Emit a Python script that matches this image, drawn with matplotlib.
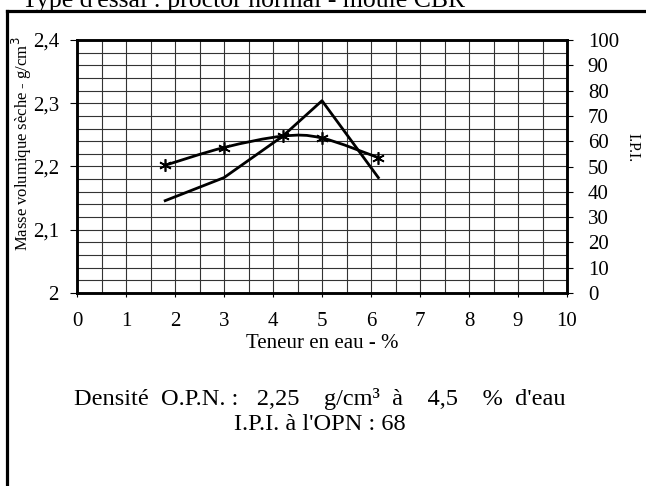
import matplotlib.pyplot as plt
from matplotlib.path import Path
from matplotlib.patches import PathPatch
from matplotlib.lines import Line2D
from matplotlib.ticker import MultipleLocator, FuncFormatter

plt.rcParams['font.family'] = ['Liberation Serif', 'DejaVu Serif']

# donnees
teneur_eau = [1.8, 3.0, 4.2, 5.0, 6.15]
densite = [2.202, 2.230, 2.248, 2.245, 2.214]
ipi = [36.5, 45.6, 62.0, 76.0, 45.6]

titre = "Type d'essai : proctor normal - moule CBR"
ligne_opn = "Densité  O.P.N. :   2,25    g/cm³  à    4,5    %  d'eau"
ligne_ipi = "I.P.I. à l'OPN : 68"


def courbe_lissee(xs, ys):
    # courbe de Bezier type Excel (Catmull-Rom) passant par les points
    verts = [(xs[0], ys[0])]
    codes = [Path.MOVETO]
    n = len(xs)
    for i in range(n - 1):
        x0, y0 = (xs[i - 1], ys[i - 1]) if i > 0 else (xs[i], ys[i])
        x1, y1 = xs[i], ys[i]
        x2, y2 = xs[i + 1], ys[i + 1]
        x3, y3 = (xs[i + 2], ys[i + 2]) if i + 2 < n else (x2, y2)
        c1 = (x1 + (x2 - x0) / 6, y1 + (y2 - y0) / 6)
        c2 = (x2 - (x3 - x1) / 6, y2 - (y3 - y1) / 6)
        verts += [c1, c2, (x2, y2)]
        codes += [Path.CURVE4] * 3
    return Path(verts, codes)


fig = plt.figure(figsize=(6.46, 4.86), dpi=100)
ax = fig.add_axes([77 / 646, 1 - 293 / 486, 490 / 646, 253 / 486])

ax.set_xlim(0, 10)
ax.set_ylim(2.0, 2.4)
ax.xaxis.set_major_locator(MultipleLocator(1))
ax.xaxis.set_minor_locator(MultipleLocator(0.5))
ax.yaxis.set_major_locator(MultipleLocator(0.1))
ax.yaxis.set_minor_locator(MultipleLocator(0.02))
ax.yaxis.set_major_formatter(FuncFormatter(lambda v, p: ('%g' % round(v, 2)).replace('.', ',')))
ax.grid(True, which='both', color='#333333', lw=0.8)
ax.set_axisbelow(True)
ax.tick_params(which='minor', length=0)
ax.tick_params(axis='y', which='major', length=5, width=0.8, labelsize=15, pad=8)
ax.tick_params(axis='x', which='major', length=3, width=0.8, labelsize=15, pad=11)
for s in ax.spines.values():
    s.set_linewidth(1.8)
ax.set_xlabel('Teneur en eau - %', fontsize=15, labelpad=2)

ax.add_patch(PathPatch(courbe_lissee(teneur_eau, densite), fc='none', ec='black', lw=2, zorder=3))
ax.plot(teneur_eau, densite, ls='none', marker=(6, 2, 0), ms=9, mec='black', mew=1.2, zorder=4)

ax2 = ax.twinx()
ax2.set_ylim(0, 100)
ax2.yaxis.set_major_locator(MultipleLocator(10))
ax2.tick_params(axis='y', length=4, width=0.8, labelsize=15, pad=11)
ax2.plot(teneur_eau, ipi, color='black', lw=2, zorder=3)
for s in ax2.spines.values():
    s.set_linewidth(1.8)

fig.text(22 / 646, 1 - 144 / 486, 'Masse volumique sèche - g/cm$^3$', rotation=90,
         ha='center', va='center', fontsize=12)
fig.text(632 / 646, 1 - 148 / 486, 'I.P.I.', rotation=270, ha='center', va='center', fontsize=11.5)

fig.text(22 / 646, 1 - 7 / 486, titre, ha='left', va='baseline', fontsize=18.5)
fig.text(320 / 646, 1 - 399 / 486, ligne_opn, ha='center', va='center', fontsize=17.6)
fig.text(320 / 646, 1 - 424 / 486, ligne_ipi, ha='center', va='center', fontsize=17.6)

# cadre de la feuille
fig.add_artist(Line2D([7 / 646, 1], [1 - 11 / 486, 1 - 11 / 486], color='black', lw=2.3))
fig.add_artist(Line2D([7 / 646, 7 / 646], [1 - 11 / 486, 0], color='black', lw=2.3))

fig.savefig('out.png', dpi=100)
